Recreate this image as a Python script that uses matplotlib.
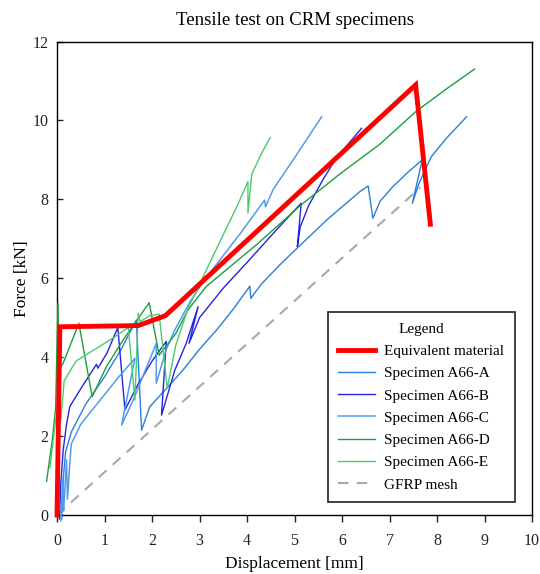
import matplotlib
matplotlib.use("Agg")
import matplotlib.pyplot as plt

plt.rcParams['font.family'] = ['Liberation Serif', 'DejaVu Serif']

# Idealised (equivalent material) law
equiv_disp = [0.0, 0.06, 1.71, 2.28, 7.55, 7.86]
equiv_force = [0.0, 4.77, 4.80, 5.05, 10.90, 7.37]

# Bare GFRP mesh reference
gfrp_disp = [0.0, 7.65]
gfrp_force = [0.0, 8.30]

# Specimen A66-A
a_disp = [0.10, 0.13, 0.18, 0.30, 0.60, 1.00, 1.35, 1.67, 1.78, 1.95, 2.30, 2.65,
          3.00, 3.36, 3.70, 4.06, 4.08, 4.30, 4.70, 5.07, 5.70, 6.37, 6.55, 6.65,
          6.80, 7.07, 7.40, 7.69, 7.48, 7.62, 7.78, 7.88, 8.20, 8.62]
a_force = [-0.10, 0.90, 1.60, 2.10, 2.80, 3.50, 4.20, 4.94, 2.15, 2.74, 3.20, 3.67,
           4.20, 4.69, 5.20, 5.80, 5.49, 5.85, 6.35, 6.78, 7.50, 8.19, 8.34, 7.52,
           7.95, 8.32, 8.70, 9.00, 7.90, 8.40, 8.83, 9.08, 9.55, 10.09]

# Specimen A66-B
b_disp = [0.05, 0.08, 0.13, 0.20, 0.27, 0.50, 0.83, 0.86, 1.05, 1.28, 1.43, 1.70,
          2.00, 2.30, 2.20, 2.48, 2.72, 2.97, 2.78, 3.00, 3.50, 4.00, 4.60, 5.14,
          5.06, 5.12, 5.30, 5.60, 5.88, 6.20, 6.41]
b_force = [-0.10, 0.80, 1.65, 2.30, 2.75, 3.20, 3.82, 3.72, 4.10, 4.75, 2.66, 3.30,
           3.90, 4.40, 2.53, 3.67, 4.35, 5.28, 4.35, 5.00, 5.75, 6.40, 7.20, 7.90,
           6.80, 7.30, 7.85, 8.50, 9.05, 9.50, 9.80]

# Specimen A66-C
c_disp = [0.08, 0.12, 0.14, 0.20, 0.22, 0.28, 0.30, 0.50, 0.90, 1.30, 1.64, 1.36,
          1.60, 2.09, 2.09, 2.30, 2.48, 2.80, 3.10, 3.42, 3.90, 4.37, 4.39, 4.55,
          5.00, 5.57]
c_force = [-0.15, 0.90, 0.10, 1.40, 0.40, 1.50, 1.80, 2.30, 2.90, 3.50, 3.97, 2.28,
           2.90, 4.35, 3.34, 4.20, 4.69, 5.40, 5.95, 6.45, 7.20, 7.98, 7.81, 8.25,
           9.05, 10.09]

# Specimen A66-D
d_disp = [-0.22, -0.10, -0.03, 0.02, 0.05, 0.13, 0.46, 0.74, 1.04, 1.40, 1.94,
          2.15, 2.50, 2.76, 3.14, 3.60, 4.20, 5.14, 5.60, 5.93, 6.80, 7.55, 8.20, 8.79]
d_force = [0.85, 1.90, 2.70, 5.37, 3.70, 3.85, 4.86, 3.00, 3.76, 4.45, 5.38,
           4.05, 4.60, 5.20, 5.79, 6.25, 6.85, 7.86, 8.30, 8.62, 9.40, 10.22, 10.80, 11.30]

# Specimen A66-E
e_disp = [-0.15, -0.05, 0.05, 0.08, 0.15, 0.40, 0.80, 1.20, 1.50, 1.64, 1.71, 1.75,
          1.95, 2.15, 2.32, 2.50, 2.76, 3.10, 3.53, 3.80, 4.02, 4.02, 4.10, 4.30, 4.49]
e_force = [1.20, 2.20, 3.10, 2.40, 3.40, 3.90, 4.20, 4.50, 4.75, 2.91, 5.11, 4.90,
           5.05, 5.09, 3.21, 4.30, 5.24, 6.10, 7.18, 7.85, 8.45, 7.65, 8.64, 9.15, 9.57]

fig = plt.figure(figsize=(5.40, 5.74), dpi=100)
ax = fig.add_axes([0.1056, 0.1028, 0.8796, 0.8249])

ax.plot(gfrp_disp, gfrp_force, color='#a8a8a8', lw=1.5, ls=(0, (5, 4)),
        label='GFRP mesh', zorder=2)
ax.plot(a_disp, a_force, color='#2a7fdc', lw=1.0, label='Specimen A66-A', clip_on=False, zorder=3)
ax.plot(b_disp, b_force, color='#2424e0', lw=1.0, label='Specimen A66-B', clip_on=False, zorder=3)
ax.plot(c_disp, c_force, color='#4f9cef', lw=1.1, label='Specimen A66-C', clip_on=False, zorder=3)
ax.plot(d_disp, d_force, color='#1b9e3e', lw=1.0, label='Specimen A66-D', clip_on=False, zorder=3)
ax.plot(e_disp, e_force, color='#4acb6e', lw=1.0, label='Specimen A66-E', clip_on=False, zorder=3)
ax.plot(equiv_disp, equiv_force, color='#ff0000', lw=3.5, solid_joinstyle='miter',
        label='Equivalent material', clip_on=False, zorder=4)

ax.set_xlim(0, 10)
ax.set_ylim(0, 12)
ax.set_xticks(range(0, 11))
ax.set_yticks(range(0, 13, 2))
ax.tick_params(axis='x', direction='out', length=5, width=1, labelsize=11.5, pad=8,
               colors='#222222')
ax.tick_params(axis='y', direction='in', length=4, width=1, labelsize=11.5, pad=6,
               colors='#222222')
for s in ax.spines.values():
    s.set_linewidth(1.0)

ax.set_title('Tensile test on CRM specimens', fontsize=13.5, pad=12)
ax.set_xlabel('Displacement [mm]', fontsize=12.5, labelpad=5)
ax.set_ylabel('Force [kN]', fontsize=12.5, labelpad=2)

handles, labels = ax.get_legend_handles_labels()
order = ['Equivalent material', 'Specimen A66-A', 'Specimen A66-B', 'Specimen A66-C',
         'Specimen A66-D', 'Specimen A66-E', 'GFRP mesh']
hmap = dict(zip(labels, handles))
leg = ax.legend([hmap[k] for k in order], order, title='Legend', fontsize=11,
                title_fontsize=11, loc='lower right', bbox_to_anchor=(0.964, 0.027),
                borderaxespad=0, fancybox=False, framealpha=1, edgecolor='#222222',
                handlelength=2.4, labelspacing=0.56, borderpad=0.7, handletextpad=0.6)
leg.get_frame().set_linewidth(1.2)

fig.savefig('out.png', dpi=100)
